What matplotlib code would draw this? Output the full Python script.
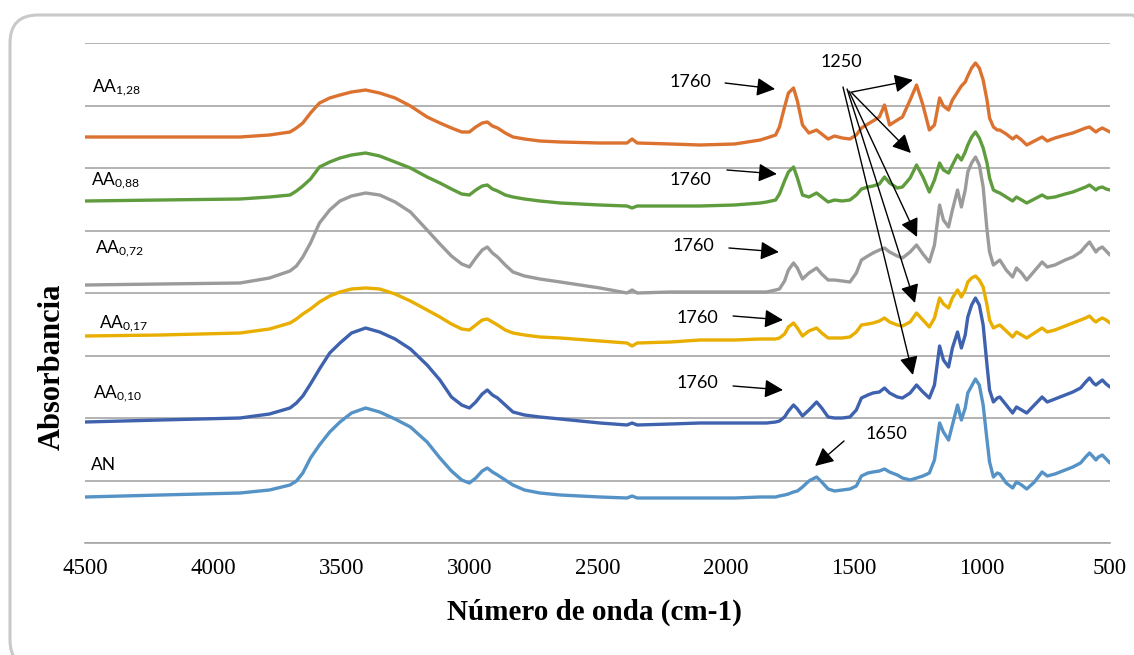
import numpy as np
import matplotlib
matplotlib.use("Agg")
import matplotlib.pyplot as plt
from matplotlib.patches import FancyBboxPatch

plt.rcParams["mathtext.fontset"] = "custom"
plt.rcParams["mathtext.rm"] = "Lato"
plt.rcParams["mathtext.it"] = "Lato"

# ---------------------------------------------------------------------
# FTIR spectra, stacked with offsets (absorbance in arbitrary units)
# ---------------------------------------------------------------------
wavenumber = [
    4500, 4205, 3895, 3780, 3700, 3675, 3650, 3620, 3585, 3545,
    3505, 3460, 3405, 3350, 3290, 3230, 3165, 3115, 3070, 3030,
    3000, 2975, 2950, 2930, 2910, 2890, 2860, 2830, 2785, 2725,
    2645, 2490, 2385, 2365, 2345, 2215, 2100, 1965, 1865, 1840,
    1805, 1790, 1770, 1755, 1735, 1720, 1700, 1675, 1645, 1625,
    1600, 1575, 1545, 1515, 1490, 1470, 1445, 1425, 1400, 1380,
    1360, 1330, 1310, 1280, 1255, 1230, 1205, 1185, 1165, 1150,
    1130, 1115, 1095, 1080, 1065, 1055, 1040, 1025, 1010, 995,
    980, 970, 955, 940, 930, 905, 880, 865, 845, 825,
    795, 765, 745, 715, 675, 645, 615, 595, 580, 565,
    555, 545, 530, 515, 500,
]

aa_128 = [
    406, 406, 406, 408, 411, 415, 420, 430, 440, 445,
    448, 451, 453, 450, 445, 437, 426, 420, 415, 411,
    411, 416, 420, 421, 417, 415, 410, 406, 404, 402,
    401, 400, 400, 404, 400, 399, 398, 399, 403, 405,
    408, 416, 436, 450, 455, 442, 418, 410, 413, 409,
    404, 407, 405, 404, 408, 415, 419, 422, 426, 438,
    418, 423, 426, 443, 458, 438, 413, 418, 445, 437,
    433, 443, 451, 457, 461, 467, 475, 480, 475, 463,
    443, 425, 416, 413, 413, 409, 404, 407, 403, 398,
    402, 406, 402, 405, 408, 410, 413, 415, 416, 413,
    411, 413, 415, 413, 411,
]

aa_088 = [
    342, 343, 344, 346, 348, 352, 357, 364, 376, 381,
    385, 388, 390, 387, 381, 375, 366, 360, 354, 349,
    348, 353, 357, 358, 354, 352, 348, 346, 344, 342,
    340, 338, 337, 335, 337, 337, 337, 338, 340, 341,
    343, 349, 362, 371, 376, 365, 348, 346, 350, 346,
    341, 343, 342, 343, 348, 354, 356, 357, 359, 366,
    360, 355, 356, 365, 378, 366, 351, 363, 380, 373,
    370, 378, 388, 383, 391, 398, 406, 411, 405, 395,
    380, 365, 353, 351, 350, 346, 342, 346, 343, 340,
    344, 348, 345, 346, 349, 351, 354, 356, 358, 355,
    353, 355, 356, 354, 353,
]

aa_072 = [
    258, 259, 260, 265, 272, 277, 286, 300, 320, 333,
    342, 347, 350, 348, 341, 331, 313, 299, 287, 279,
    276, 285, 293, 296, 290, 286, 278, 271, 267, 264,
    261, 255, 250, 253, 250, 251, 251, 251, 251, 251,
    253, 254, 262, 273, 280, 275, 264, 270, 275, 269,
    263, 263, 262, 261, 270, 283, 287, 290, 293, 295,
    291, 287, 285, 291, 298, 289, 281, 298, 338, 323,
    316, 333, 353, 336, 353, 371, 380, 386, 378, 356,
    313, 291, 278, 281, 283, 273, 266, 275, 270, 263,
    272, 281, 276, 278, 283, 286, 291, 297, 301, 295,
    291, 294, 296, 292, 288,
]

aa_017 = [
    207, 208, 210, 214, 220, 224, 229, 234, 241, 247,
    251, 254, 255, 254, 249, 242, 233, 226, 219, 214,
    213, 218, 223, 224, 221, 218, 213, 210, 208, 206,
    205, 202, 200, 197, 200, 201, 203, 203, 204, 204,
    204, 205, 209, 216, 220, 215, 207, 212, 215, 210,
    205, 205, 205, 206, 211, 218, 219, 220, 222, 225,
    221, 218, 217, 221, 230, 223, 216, 225, 245, 239,
    235, 245, 253, 246, 253, 261, 265, 267, 263, 256,
    238, 223, 215, 217, 218, 212, 206, 211, 208, 205,
    210, 215, 211, 213, 217, 220, 223, 225, 227, 223,
    221, 223, 225, 223, 220,
]

aa_010 = [
    121, 123, 125, 129, 135, 140, 147, 159, 174, 190,
    200, 210, 215, 211, 204, 194, 178, 163, 146, 138,
    135, 141, 149, 153, 148, 145, 138, 131, 128, 126,
    124, 120, 118, 120, 118, 119, 120, 120, 120, 120,
    121, 122, 126, 132, 138, 134, 127, 133, 141, 135,
    126, 125, 125, 126, 133, 145, 148, 150, 151, 155,
    150, 146, 145, 150, 158, 151, 145, 158, 197, 183,
    176, 195, 211, 195, 208, 226, 238, 245, 238, 218,
    178, 153, 141, 145, 146, 138, 130, 136, 133, 130,
    138, 146, 141, 144, 148, 151, 155, 161, 165, 160,
    158, 160, 163, 159, 156,
]

an = [
    46, 48, 50, 53, 58, 62, 70, 85, 98, 111,
    121, 130, 135, 131, 124, 116, 101, 85, 72, 63,
    60, 65, 72, 75, 71, 68, 63, 58, 53, 50,
    48, 46, 45, 47, 45, 45, 45, 45, 46, 46,
    46, 47, 48, 49, 51, 52, 56, 62, 66, 61,
    54, 52, 53, 54, 57, 67, 70, 71, 72, 74,
    71, 68, 65, 63, 65, 67, 70, 83, 120, 111,
    103, 118, 138, 123, 135, 150, 157, 164, 158, 138,
    103, 81, 66, 70, 69, 60, 55, 61, 58, 54,
    61, 71, 67, 69, 73, 76, 80, 86, 90, 86,
    83, 86, 88, 84, 80,
]

sample_names = [r"AN", r"AA$_{0{,}10}$", r"AA$_{0{,}17}$",
                r"AA$_{0{,}72}$", r"AA$_{0{,}88}$", r"AA$_{1{,}28}$"]
spectra = [an, aa_010, aa_017, aa_072, aa_088, aa_128]
colors = ["#5592C6", "#3F62AE", "#E8AE00", "#9B9B9B", "#5F9C3D", "#DB7230"]

# where each sample name sits (wavenumber, absorbance)
label_pos = [(4477, 73), (4469, 145), (4445, 215), (4461, 290), (4477, 358), (4473, 451)]

for s in spectra:
    assert len(s) == len(wavenumber)

fig = plt.figure(figsize=(11.34, 6.55), dpi=100)
ax = fig.add_axes([85 / 1134, 1 - 543 / 655, 1025 / 1134, 500 / 655])

for vals, color in zip(spectra, colors):
    ax.plot(wavenumber, vals, color=color, lw=2.4, solid_joinstyle="round",
            solid_capstyle="round")

for name, (lx, ly) in zip(sample_names, label_pos):
    ax.text(lx, ly, name, fontsize=12.5, family="Lato", ha="left", va="baseline")

ax.set_xlim(4500, 500)
ax.set_ylim(0, 500)
ax.set_xticks(np.arange(4500, 499, -500))
ax.set_yticks(np.arange(0, 501, 62.5))
ax.set_yticklabels([])
ax.yaxis.grid(True, color="#A6A6A6", lw=1.2)
ax.set_axisbelow(True)
ax.tick_params(length=0, pad=11)
for lbl in ax.get_xticklabels():
    lbl.set_family("Liberation Serif")
    lbl.set_fontsize(16.5)
for side in ["top", "right", "left"]:
    ax.spines[side].set_visible(False)
ax.spines["bottom"].set_color("#A6A6A6")
ax.spines["bottom"].set_linewidth(1.2)

# ---------------------------------------------------------------------
# Peak annotations
# ---------------------------------------------------------------------
arrow = dict(arrowstyle="-|>,head_length=0.8,head_width=0.4", mutation_scale=14,
             lw=1.0, color="black", shrinkA=0, shrinkB=0)
ann_font = dict(fontsize=13, family="Lato", ha="center", va="center")

# 1760 band on each modified sample
for (tx, ty), (x0, y0), (x1, y1) in [
    ((2139, 461), (2002, 460), (1807, 454)),
    ((2139, 363), (1995, 373), (1800, 369)),
    ((2127, 297), (1987, 295), (1792, 291)),
    ((2112, 225), (1971, 227), (1776, 223)),
    ((2112, 160), (1971, 157), (1776, 153)),
]:
    ax.text(tx, ty, "1760", **ann_font)
    ax.annotate("", xy=(x1, y1), xytext=(x0, y0), arrowprops=arrow)

# 1650 band on native starch
ax.text(1374, 109, "1650", **ann_font)
ax.annotate("", xy=(1651, 77), xytext=(1538, 102), arrowprops=arrow)

# 1250 band, one arrow per modified sample
ax.text(1550, 481, "1250", **ann_font)
for (x0, y0), (x1, y1) in [
    ((1507, 451), (1269, 463)),
    ((1511, 451), (1277, 390)),
    ((1519, 452), (1253, 306)),
    ((1526, 454), (1261, 240)),
    ((1542, 456), (1269, 168)),
]:
    ax.annotate("", xy=(x1, y1), xytext=(x0, y0), arrowprops=arrow)

fig.text(594 / 1134, 1 - 612 / 655, "Número de onda (cm-1)", fontsize=21,
         family="Liberation Serif", weight="bold", ha="center", va="center")
fig.text(52 / 1134, 1 - 367 / 655, "Absorbancia", fontsize=22, rotation=90,
         family="Liberation Serif", weight="bold", ha="center", va="center")

# rounded chart-area border
frame = FancyBboxPatch((10, -13), 1150, 653, boxstyle="round,pad=0,rounding_size=28",
                       transform=None, facecolor="none", edgecolor="#C9C9C9", lw=2.2)
fig.add_artist(frame)

fig.savefig("out.png", dpi=100)
